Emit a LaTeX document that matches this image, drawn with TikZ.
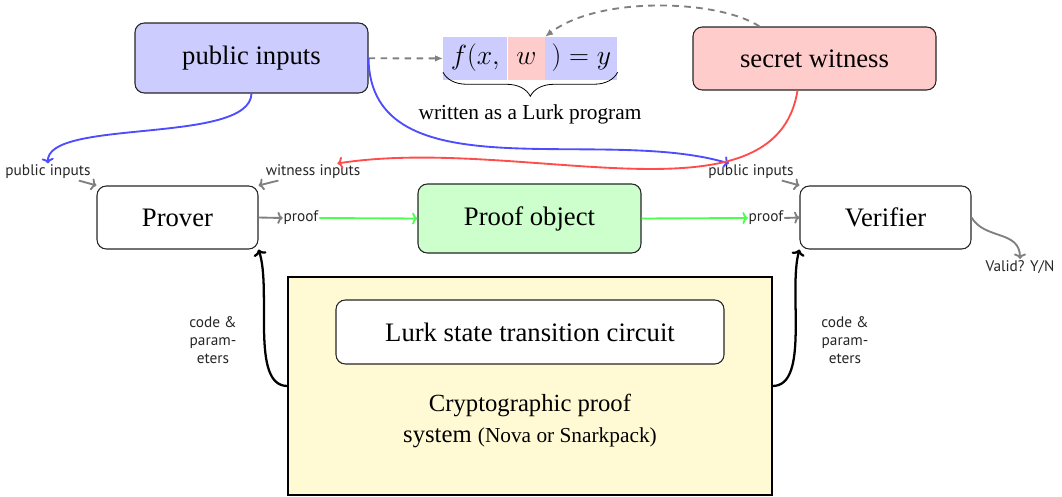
\documentclass[tikz,border=0pt]{standalone}
\usepackage{fontspec}
\setmainfont{Liberation Serif}
\newfontfamily\labelfont{PT Sans}
\usetikzlibrary{arrows.meta,decorations.pathreplacing,calc}

\definecolor{pubfill}{RGB}{204,204,255}
\definecolor{secfill}{RGB}{255,204,204}
\definecolor{objfill}{RGB}{204,255,204}
\definecolor{sysfill}{RGB}{255,250,212}
\definecolor{publine}{RGB}{77,77,255}
\definecolor{secline}{RGB}{255,77,77}
\definecolor{objline}{RGB}{77,255,77}
\definecolor{tipgray}{RGB}{128,128,128}

\begin{document}
\begin{tikzpicture}[x=0.75pt,y=-0.75pt,
  mainbox/.style={draw=black!85, line width=0.8pt, rounded corners=7pt,
    inner sep=0pt, font=\fontsize{20}{24}\selectfont},
  formula/.style={inner sep=0pt, minimum height=32.25pt, text height=14pt,
    text depth=5pt, font=\fontsize{20}{24}\selectfont},
  tag/.style={inner sep=1pt, text=black!85, font=\labelfont\fontsize{11.5}{13.5}\selectfont},
  grayarrow/.style={draw=tipgray, line width=1.4pt, -{To[length=4pt,width=9pt]}},
  dasharrow/.style={draw=tipgray, line width=1.4pt, dash pattern=on 5pt off 4pt,
    -{Latex[length=6pt,width=5pt]}},
  wire/.style={line width=1.4pt, -{To[length=4pt,width=9pt]}},
  feed/.style={draw=black, line width=1.7pt, -{To[length=4.5pt,width=10pt]}},
]
\useasboundingbox (0,0) rectangle (1062,496);

% top row: inputs and the relation being proved
\node[mainbox, fill=pubfill, minimum width=174.75pt, minimum height=52.5pt] (pub) at (251.5,58) {public inputs};
\node[mainbox, fill=secfill, minimum width=182.25pt, minimum height=47.25pt] (sec) at (814.5,58.5) {secret witness};

\node[formula, fill=pubfill, minimum width=48pt, anchor=west] (fpart) at (443,58.5) {$f(x,$};
\node[formula, fill=secfill, minimum width=27.75pt, anchor=west] (wpart) at (fpart.east) {$w$};
\node[formula, fill=pubfill, minimum width=54pt, anchor=west] (ypart) at (wpart.east) {$)=y$};
\draw[decorate, decoration={brace, mirror, amplitude=18pt}, line width=0.6pt]
  ($(fpart.south west)+(0,-8)$) -- ($(ypart.south east)+(0,-8)$);
\node[font=\fontsize{16}{19}\selectfont] (written) at (530,114) {written as a Lurk program};

% middle row: prover, proof object, verifier
\node[mainbox, minimum width=120.75pt, minimum height=47.25pt] (prover) at (177.5,217.5) {Prover};
\node[mainbox, fill=objfill, minimum width=167.25pt, minimum height=51.75pt] (obj) at (529.5,218.5) {Proof object};
\node[mainbox, minimum width=128.25pt, minimum height=47.25pt] (verifier) at (885.5,217.5) {Verifier};

\node[tag] (plabel) at (48,172) {public inputs};
\node[tag] (wlabel) at (313,172) {witness inputs};
\node[tag] (vlabel) at (751,172) {public inputs};
\node[tag, inner sep=0.5pt] (lproof) at (301,218) {proof};
\node[tag, inner sep=0.5pt] (rproof) at (766,218) {proof};
\node[tag] (valid) at (1020,267) {Valid? Y/N};

% bottom: the proof system
\node[draw=black, line width=0.8pt, fill=sysfill, minimum width=363pt, minimum height=163.5pt] (sys) at (530,386) {};
\node[mainbox, fill=white, minimum width=291pt, minimum height=48pt] (lurk) at (530,332) {Lurk state transition circuit};
\node[align=center, font=\fontsize{18.5}{23}\selectfont] (crypto) at (530,421)
  {Cryptographic proof\\system {\fontsize{16}{19}\selectfont(Nova or Snarkpack)}};

\node[tag, align=center] (lcode) at (213,340) {code \&\\param-\\eters};
\node[tag, align=center] (rcode) at (845,340) {code \&\\param-\\eters};

% connectors
\draw[dasharrow] (pub) -- (fpart);
\draw[dasharrow] ($(sec.north)+(-55,0)$) .. controls (720,0) and (600,-5) .. (wpart.north east);

\draw[wire, draw=publine] (pub.south) .. controls (250,145) and (45,118) .. (plabel.north);
\draw[wire, draw=publine] (pub.east) .. controls (370,195) and (600,125) .. ($(vlabel.north west)!0.25!(vlabel.north east)$);
\draw[wire, draw=secline] ($(sec.south)+(-17,0)$) .. controls (775,230) and (520,135) .. ($(wlabel.north)!0.5!(wlabel.north east)$);

\draw[grayarrow] (plabel) -- (prover.north west);
\draw[grayarrow] (wlabel) -- (prover.north east);
\draw[grayarrow] (vlabel) -- (verifier.north west);
\draw[grayarrow] (prover.east) -- (lproof.west);
\draw[grayarrow] (rproof.east) -- (verifier.west);
\draw[wire, draw=objline] (lproof.east) -- (obj.west);
\draw[wire, draw=objline] (obj.east) -- (rproof.west);
\draw[grayarrow] (verifier.east) .. controls (985,240) and (1020,230) .. (valid.north);

\draw[feed] (sys.west) .. controls (250,386) and (272,290) .. (prover.south east);
\draw[feed] (sys.east) .. controls (810,386) and (788,290) .. (verifier.south west);
\end{tikzpicture}
\end{document}
